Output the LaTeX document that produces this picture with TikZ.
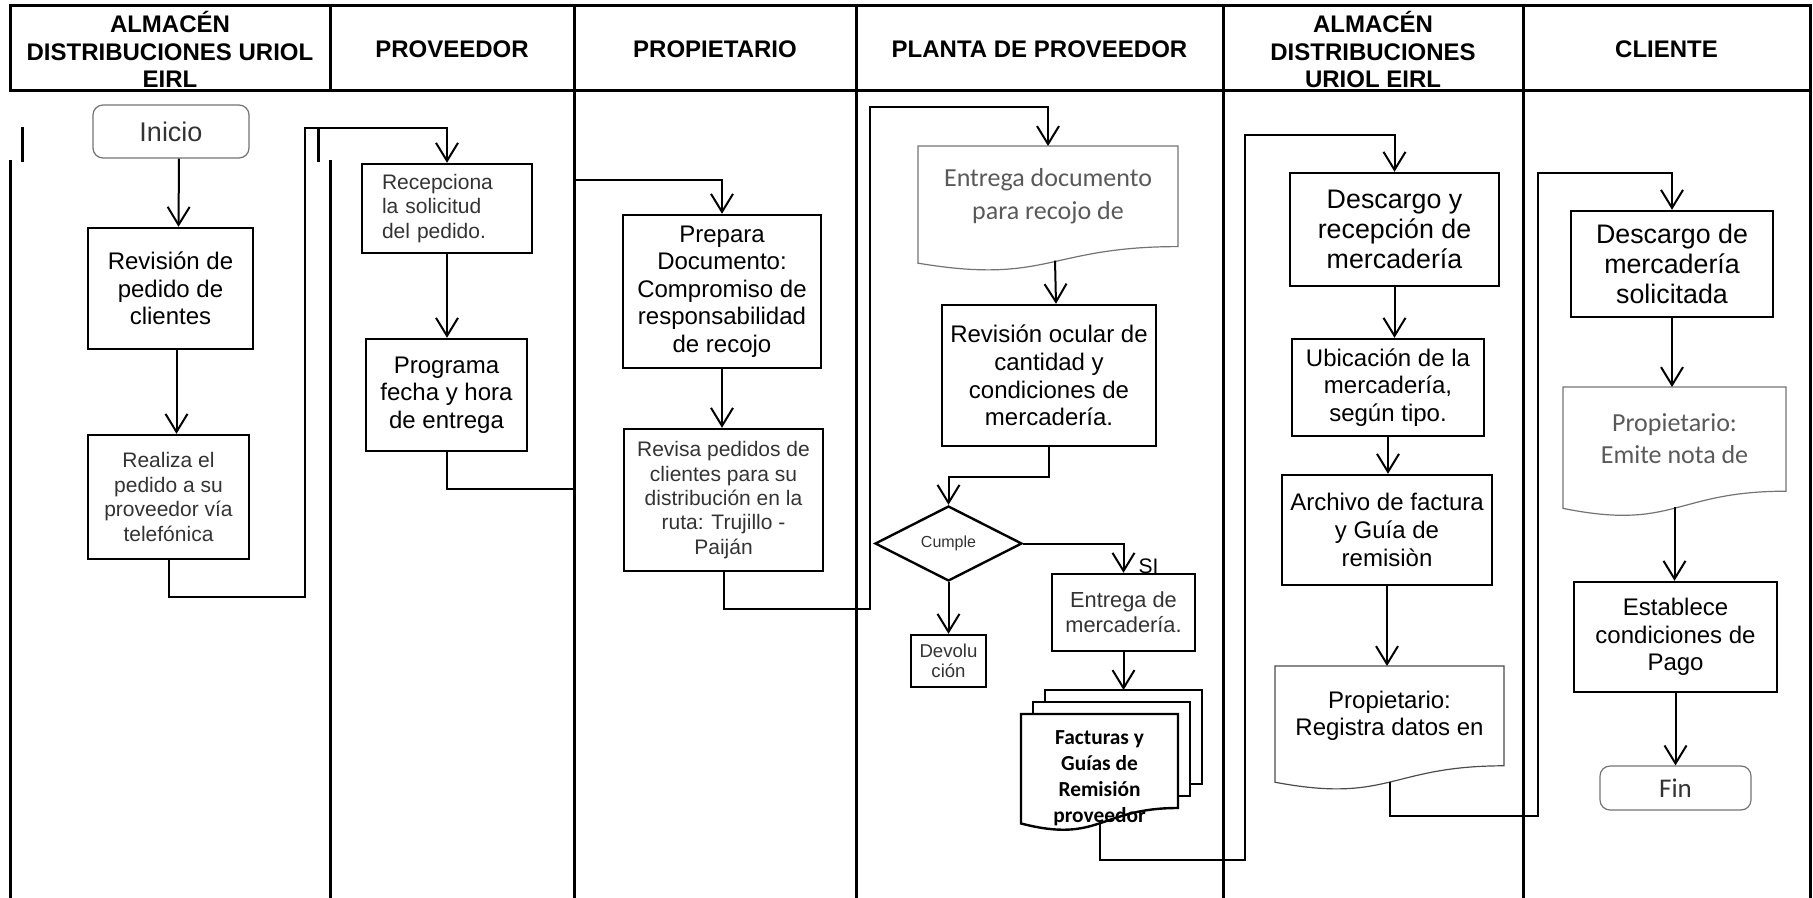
\documentclass[tikz,border=0pt]{standalone}
\usepackage{fontspec}
\setmainfont{Liberation Sans}
\newfontfamily\calibrifont{Carlito}
\usepackage{tikz}
\usetikzlibrary{arrows.meta,shapes.geometric,calc}

\definecolor{docgray}{RGB}{89,89,89}

\tikzstyle{lane}=[line width=1.5pt,line cap=rect]
\tikzstyle{head}=[inner sep=0pt,align=center,font=\bfseries\fontsize{12}{13.6}\selectfont]
\tikzstyle{block}=[rectangle,draw=black,line width=1.2pt,inner sep=0pt,align=center,font=\fontsize{12}{13.8}\selectfont]
\tikzstyle{bigblock}=[block,font=\fontsize{13.4}{15.2}\selectfont]
\tikzstyle{thinblock}=[block,text=black!80,font=\fontsize{10.5}{12.2}\selectfont]
\tikzstyle{terminal}=[rectangle,rounded corners=5pt,draw=black!55,line width=0.6pt,inner sep=0pt,text=black!80]
\tikzstyle{decision}=[diamond,draw=black,line width=1.2pt,inner sep=0pt,text=black!80,font=\fontsize{8}{9}\selectfont]
\tikzstyle{docbox}=[rectangle,inner sep=0pt,align=center]
\tikzstyle{docline}=[draw=black!55,line width=0.6pt]
\tikzstyle{stackline}=[draw=black,line width=1.2pt]

% document symbol drawn round a node (the node is the text area)
\newcommand{\drawdoc}[2]{%
  \draw[#1] (#2.north west) -- (#2.north east) -- (#2.south east)
    .. controls (#2.south) and ($(#2.south)!-0.3815!(#2.north)$)
    .. ($(#2.south west)!-0.1646!(#2.north west)$) -- cycle;}

\begin{document}
\begin{tikzpicture}[x=0.5pt,y=-0.5pt,line width=1pt,>={Straight Barb[length=9pt,width=11pt]}]
    \useasboundingbox (0,0) rectangle (1813,898);

    % swimlanes
    \draw[lane] (10,6) -- (1810,6);
    \draw[lane] (10,91) -- (1810,91);
    \draw[lane] (10,6) -- (10,91);
    \draw[lane] (10,162) -- (10,898);
    \draw[lane] (22,129) -- (22,161);
    \draw[lane] (330,6) -- (330,91);
    \draw[lane] (330,162) -- (330,898);
    \draw[lane] (318,129) -- (318,161);
    \draw[lane] (574,6) -- (574,898);
    \draw[lane] (856,6) -- (856,898);
    \draw[lane] (1223,6) -- (1223,898);
    \draw[lane] (1523,6) -- (1523,898);
    \draw[lane] (1810,6) -- (1810,898);

    \node[head] (hAlmacen) at (170,49.5) {ALMACÉN\\DISTRIBUCIONES URIOL\\EIRL};
    \node[head] (hProveedor) at (452,49) {PROVEEDOR};
    \node[head] (hPropietario) at (715,49) {PROPIETARIO};
    \node[head] (hPlanta) at (1039.5,49) {PLANTA DE PROVEEDOR};
    \node[head] (hAlmacenB) at (1373,49.5) {ALMACÉN\\DISTRIBUCIONES\\URIOL EIRL};
    \node[head] (hCliente) at (1666.5,49) {CLIENTE};

    % steps
    \node[terminal,minimum width=78pt,minimum height=26.5pt,font=\fontsize{13.5}{15}\selectfont] (inicio) at (171,131.5) {Inicio};
    \node[block,minimum width=82.5pt,minimum height=60.5pt] (revision) at (170.5,288.5) {Revisión de\\pedido de\\clientes};
    \node[thinblock,minimum width=80.5pt,minimum height=62pt] (realiza) at (168.5,497) {Realiza el\\pedido a su\\proveedor vía\\telefónica};
    \node[thinblock,minimum width=85pt,minimum height=44.5pt,text width=65pt,align=left] (recepciona) at (447,208.5) {Recepciona\\la solicitud\\del pedido.};
    \node[block,minimum width=80.5pt,minimum height=56pt] (programa) at (446.5,395) {Programa\\fecha y hora\\de entrega};
    \node[block,minimum width=99pt,minimum height=76.5pt] (prepara) at (722,291.5) {Prepara\\Documento:\\Compromiso de\\responsabilidad\\de recojo};
    \node[thinblock,minimum width=99.5pt,minimum height=71pt] (revisa) at (723.5,500) {Revisa pedidos de\\clientes para su\\distribución en la\\ruta: Trujillo -\\Paiján};
    \node[docbox,minimum width=129pt,minimum height=49.3pt,text=docgray,font=\calibrifont\fontsize{13}{16.5}\selectfont] (entregadoc) at (1048,196.3) {Entrega documento\\para recojo de};
    \node[block,minimum width=107pt,minimum height=70.5pt] (revocular) at (1049,375.5) {Revisión ocular de\\cantidad y\\condiciones de\\mercadería.};
    \node[decision,minimum width=73.5pt,minimum height=37.5pt] (cumple) at (948.5,543.5) {Cumple};
    \node[thinblock,minimum width=37.5pt,minimum height=26pt,font=\fontsize{9.3}{10}\selectfont] (devolucion) at (948.5,661) {Devolu\\ción};
    \node[thinblock,minimum width=71.5pt,minimum height=38.5pt,font=\fontsize{10.9}{12.5}\selectfont] (entregamerc) at (1123.5,612.5) {Entrega de\\mercadería.};
    \node[docbox,font=\calibrifont\bfseries\fontsize{10.7}{13}\selectfont] (facturas) at (1099.5,761)
        {\parbox[c][46pt][t]{77.5pt}{\centering\vspace*{8pt}Facturas y\\Guías de\\Remisión\\proveedor}};
    \node[bigblock,minimum width=104.5pt,minimum height=56.5pt] (descrec) at (1394.5,229.5) {Descargo y\\recepción de\\mercadería};
    \node[block,minimum width=96pt,minimum height=48.5pt] (ubicacion) at (1388,387.5) {Ubicación de la\\mercadería,\\según tipo.};
    \node[block,minimum width=105pt,minimum height=55pt] (archivo) at (1387,530) {Archivo de factura\\y Guía de\\remisiòn};
    \node[docbox,minimum width=113.5pt,minimum height=48.9pt,font=\fontsize{12}{13.7}\selectfont] (registra) at (1389.5,715.9) {Propietario:\\Registra datos en};
    \node[bigblock,minimum width=101pt,minimum height=53pt] (descsol) at (1672,264) {Descargo de\\mercadería\\solicitada};
    \node[docbox,minimum width=110.5pt,minimum height=51.1pt,text=docgray,font=\calibrifont\fontsize{13}{16}\selectfont] (emite) at (1674.5,439.1) {Propietario:\\Emite nota de};
    \node[block,minimum width=101.5pt,minimum height=55pt] (establece) at (1675.5,637) {Establece\\condiciones de\\Pago};
    \node[terminal,minimum width=75.5pt,minimum height=22pt,font=\calibrifont\fontsize{13.5}{15}\selectfont] (fin) at (1675.5,788) {Fin};

    % documents
    \drawdoc{docline}{entregadoc}
    \drawdoc{docline,draw=black!70}{registra}
    \drawdoc{docline}{emite}
    \drawdoc{stackline}{facturas}
    \draw[stackline] ([shift={(12,0)}]facturas.north west) -- ([shift={(12,-12)}]facturas.north west)
        -- ([shift={(12,-12)}]facturas.north east) -- ([shift={(12,-12)}]facturas.south east) -- ([shift={(0,-12)}]facturas.south east);
    \draw[stackline] ([shift={(24,-12)}]facturas.north west) -- ([shift={(24,-24)}]facturas.north west)
        -- ([shift={(24,-24)}]facturas.north east) -- ([shift={(24,-24)}]facturas.south east) -- ([shift={(12,-24)}]facturas.south east);
    \coordinate (facback) at ([shift={(24,-24)}]facturas.north);

    % flow
    \draw[->] ([xshift=4pt]inicio.south) -- ([xshift=4pt]revision.north);
    \draw[->] ([xshift=3pt]revision.south) -- ([xshift=4pt]realiza.north);
    \draw[->] (realiza.south) |- (305,597) -- (305,128) -| (recepciona.north);
    \draw[->] (recepciona.south) -- (recepciona.south |- programa.north);
    \draw[->] (programa.south) |- (575,489) -- (575,180) -| (prepara.north);
    \draw[->] (prepara.south) -- (prepara.south |- revisa.north);
    \draw[->] (revisa.south) |- (870,609) -- (870,107) -| (entregadoc.north);
    \draw[->] ([xshift=3.5pt,yshift=-7pt]entregadoc.south) -- ([xshift=3.5pt]revocular.north);
    \draw[->] (revocular.south) -- ++(0,30) -| (cumple.north);
    \draw[->] (cumple.south) -- (devolucion.north);
    \draw[->] (cumple.east) -| node[pos=0.88,anchor=west,xshift=7pt,inner sep=0pt,font=\fontsize{10.5}{12}\selectfont] (si) {SI} (entregamerc.north);
    \draw[->] (entregamerc.south) -- (entregamerc.south |- facback);
    \draw[->] ([yshift=-7.5pt]facturas.south) |- (1245,860) -- (1245,135) -| (descrec.north);
    \draw[->] (descrec.south) -- (descrec.south |- ubicacion.north);
    \draw[->] (ubicacion.south) -- (ubicacion.south |- archivo.north);
    \draw[->] (archivo.south) -- (archivo.south |- registra.north);
    \draw[->] ([yshift=-8pt]registra.south) |- (1538,816) -- (1538,173) -| (descsol.north);
    \draw[->] (descsol.south) -- (descsol.south |- emite.north);
    \draw[->] ([yshift=-8pt]emite.south) -- (emite.south |- establece.north);
    \draw[->] (establece.south) -- (fin.north);
\end{tikzpicture}
\end{document}
